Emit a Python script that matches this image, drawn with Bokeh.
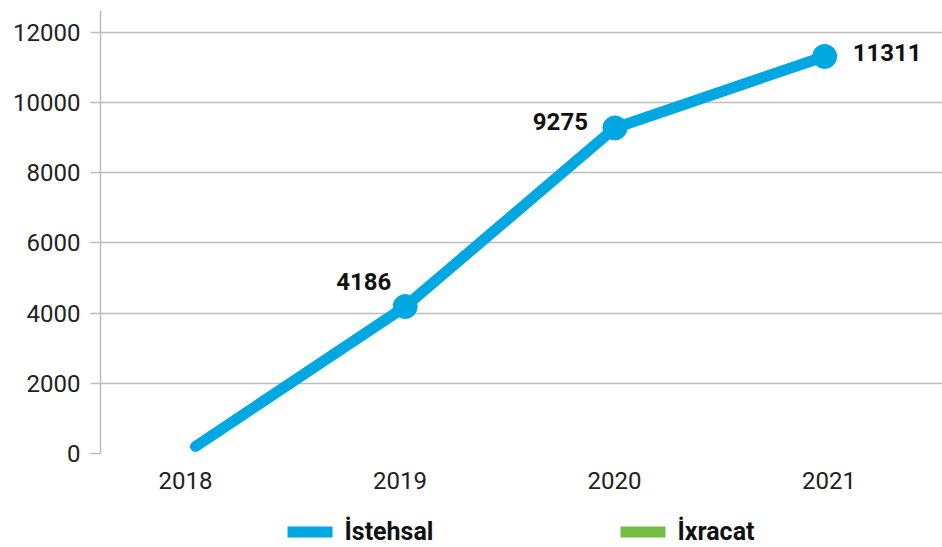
from bokeh.plotting import figure
from bokeh.layouts import column
from bokeh.models import (ColumnDataSource, Legend, LegendItem, FixedTicker, Range1d,
                          LinearAxis)
from bokeh.embed import file_html
from bokeh.resources import INLINE
from bokeh.core.properties import value

years = [2018, 2019, 2020, 2021]
istehsal = [200, 4186, 9275, 11311]
marker_years = [2019, 2020, 2021]
marker_values = [4186, 9275, 11311]
marker_labels = ["4186", "9275", "11311"]
ixracat = [float("nan"), float("nan"), float("nan"), float("nan")]
y_ticks = [0, 2000, 4000, 6000, 8000, 10000, 12000]
series_names = ["İstehsal", "İxracat"]

# label styling (screen offsets)
lab_align = ["right", "right", "left"]
lab_dx = [-14, -27, 28]
lab_dy = [-25, -6, -4]

BLUE = "#00A7E1"
GREEN = "#76BE43"
GRID = "#BDBDBD"
FONT = "Roboto"
W = 942

p = figure(width=W, height=515, output_backend="svg", toolbar_location=None,
           x_range=Range1d(2017.547, 2021.562), y_range=Range1d(0, 12620),
           min_border_left=100, min_border_right=0, min_border_top=10, min_border_bottom=62)
p.extra_x_ranges = {"lab": Range1d(2017.604, 2021.529)}
p.outline_line_color = None
p.background_fill_color = "white"
p.border_fill_color = "white"

p.xgrid.grid_line_color = None
p.ygrid.grid_line_color = GRID
p.ygrid.grid_line_width = 1.5
p.ygrid.ticker = FixedTicker(ticks=y_ticks)

p.yaxis.ticker = FixedTicker(ticks=y_ticks)
p.yaxis.axis_line_color = GRID
p.yaxis.axis_line_width = 1.5
p.yaxis.major_tick_line_color = GRID
p.yaxis.major_tick_line_width = 1.5
p.yaxis.major_tick_out = 10
p.yaxis.major_tick_in = 0
p.yaxis.minor_tick_line_color = None
p.yaxis.major_label_standoff = 10
p.yaxis.major_label_text_font = FONT
p.yaxis.major_label_text_font_size = "24px"
p.yaxis.major_label_text_color = "#222222"

p.xaxis.visible = False
xax = LinearAxis(x_range_name="lab", ticker=FixedTicker(ticks=years))
xax.axis_line_color = None
xax.major_tick_line_color = None
xax.minor_tick_line_color = None
xax.major_label_standoff = 12
xax.major_label_text_font = FONT
xax.major_label_text_font_size = "24px"
xax.major_label_text_color = "#222222"
p.add_layout(xax, "below")

src = ColumnDataSource(dict(x=years, y=istehsal, y2=ixracat))
p.line("x", "y", source=src, line_color=BLUE, line_width=11,
       line_cap="round", line_join="round")
p.line("x", "y2", source=src, line_color=GREEN, line_width=11, line_cap="round")
msrc = ColumnDataSource(dict(x=marker_years, y=marker_values, t=marker_labels,
                             a=lab_align, dx=lab_dx, dy=lab_dy))
p.scatter("x", "y", source=msrc, size=24, fill_color=BLUE, line_color=BLUE)
p.text("x", "y", text="t", source=msrc, text_align="a", x_offset="dx", y_offset="dy",
       text_baseline="middle", text_font=value(FONT), text_font_size="24px",
       text_font_style="bold", text_color="#111111")

# legend strip
lg = figure(width=W, height=32, output_backend="svg", toolbar_location=None,
            x_range=Range1d(0, 1), y_range=Range1d(0, 1),
            x_axis_type=None, y_axis_type=None,
            min_border_left=100, min_border_right=0, min_border_top=0, min_border_bottom=0)
lg.outline_line_color = None
lg.xgrid.grid_line_color = None
lg.ygrid.grid_line_color = None
l1 = lg.line("x", "y", source=ColumnDataSource(dict(x=years, y=ixracat)),
             line_color=BLUE, line_width=11, line_cap="round")
l2 = lg.line("x", "y", source=ColumnDataSource(dict(x=years, y=ixracat)),
             line_color=GREEN, line_width=11, line_cap="round")
legend = Legend(items=[LegendItem(label=series_names[0], renderers=[l1]),
                       LegendItem(label=series_names[1], renderers=[l2])],
                orientation="horizontal", location="center",
                label_text_font=FONT, label_text_font_size="25px",
                label_text_font_style="bold", label_text_color="#111111",
                glyph_width=45, glyph_height=24, spacing=187, label_standoff=12,
                border_line_color=None, background_fill_alpha=0, padding=0, margin=0)
lg.add_layout(legend, "center")

layout = column(p, lg, spacing=0)
open("out.html", "w").write(file_html(layout, INLINE))
